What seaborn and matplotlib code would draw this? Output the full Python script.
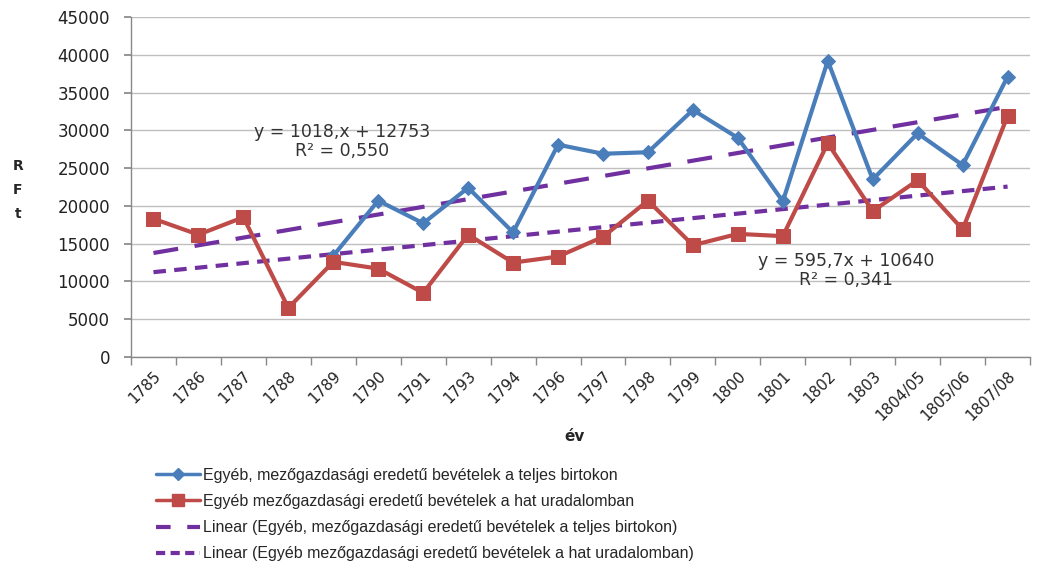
import numpy as np
import pandas as pd
import matplotlib
matplotlib.use("Agg")
import matplotlib.pyplot as plt
import seaborn as sns
from matplotlib.lines import Line2D

# categories and values
years = ["1785", "1786", "1787", "1788", "1789", "1790", "1791", "1793", "1794", "1796",
         "1797", "1798", "1799", "1800", "1801", "1802", "1803", "1804/05", "1805/06", "1807/08"]
teljes = [np.nan, np.nan, np.nan, np.nan, 13400, 20700, 17700, 22400, 16500, 28100,
          26900, 27100, 32700, 29000, 20600, 39200, 23500, 29600, 25400, 37100]
hat = [18300, 16200, 18500, 6500, 12600, 11700, 8500, 16200, 12500, 13300,
       15900, 20700, 14800, 16300, 16000, 28300, 19300, 23400, 16900, 31900]

# trendline coefficients as printed on the chart
trend_teljes = (1018, 12753)
trend_hat = (595.7, 10640)

label_teljes = "Egyéb, mezőgazdasági eredetű bevételek a teljes birtokon"
label_hat = "Egyéb mezőgazdasági eredetű bevételek a hat uradalomban"

BLUE = "#4A7EBB"
RED = "#BE4B48"
PURPLE = "#7030A0"

sns.set_theme(style="white")
plt.rcParams["font.family"] = ["DejaVu Sans"]

idx = np.arange(len(years))
df = pd.DataFrame({"x": idx, "teljes": teljes, "hat": hat})
df["trend_teljes"] = trend_teljes[0] * (idx + 1) + trend_teljes[1]
df["trend_hat"] = trend_hat[0] * (idx + 1) + trend_hat[1]

fig = plt.figure(figsize=(10.43, 5.65), dpi=100)
ax = fig.add_axes([0.1256, 0.368, 0.862, 0.602])

ax.yaxis.grid(True, color="#BFBFBF", linewidth=1)
ax.set_axisbelow(True)

sns.lineplot(data=df, x="x", y="trend_teljes", ax=ax, color=PURPLE, linewidth=3,
             zorder=2).lines[-1].set_dashes((6, 4))
sns.lineplot(data=df, x="x", y="trend_hat", ax=ax, color=PURPLE, linewidth=3,
             zorder=2).lines[-1].set_dashes((3, 2))
sns.lineplot(data=df.dropna(subset=["teljes"]), x="x", y="teljes", ax=ax, color=BLUE,
             linewidth=3, marker="D", markersize=7, markeredgecolor=BLUE, zorder=3)
sns.lineplot(data=df, x="x", y="hat", ax=ax, color=RED, linewidth=3,
             marker="s", markersize=10, markeredgecolor=RED, zorder=3)

ax.set_xlim(-0.5, len(years) - 0.5)
ax.set_ylim(0, 45000)
ax.set_yticks(np.arange(0, 45001, 5000))
ax.set_yticklabels([str(v) for v in range(0, 45001, 5000)], fontsize=12, color="#222222")
ax.set_xticks(idx)
ax.set_xticklabels(years, rotation=45, ha="right", rotation_mode="anchor", fontsize=11,
                   color="#222222")
ax.set_xticks(np.arange(-0.5, len(years), 1), minor=True)
ax.tick_params(axis="x", which="major", length=0, pad=8)
ax.tick_params(axis="x", which="minor", length=6, color="#888888", direction="out", bottom=True)
ax.tick_params(axis="y", length=5, color="#888888", direction="out", left=True, pad=10)
ax.set_xlabel("")
ax.set_ylabel("")

for side in ["top", "right"]:
    ax.spines[side].set_visible(False)
for side in ["left", "bottom"]:
    ax.spines[side].set_color("#888888")
    ax.spines[side].set_linewidth(1)

ax.text(4.2, 28500, "y = 1018,x + 12753\nR² = 0,550", ha="center", va="center",
        fontsize=12.5, color="#333333", linespacing=1.05)
ax.text(15.4, 11500, "y = 595,7x + 10640\nR² = 0,341", ha="center", va="center",
        fontsize=12.5, color="#333333", linespacing=1.05)

fig.text(0.017, 0.664, "R\nF\nt", ha="center", va="center", fontsize=10,
         fontweight="bold", linespacing=1.9)
fig.text(0.551, 0.227, "év", ha="center", va="center", fontsize=11, fontweight="bold")

handles = [
    Line2D([], [], color=BLUE, linewidth=2.5, marker="D", markersize=6),
    Line2D([], [], color=RED, linewidth=2.5, marker="s", markersize=8),
    Line2D([], [], color=PURPLE, linewidth=3, dashes=(3.5, 4)),
    Line2D([], [], color=PURPLE, linewidth=3, dashes=(2.2, 1.3)),
]
labels = [label_teljes, label_hat, "Linear (" + label_teljes + ")", "Linear (" + label_hat + ")"]
fig.legend(handles, labels, loc="upper left", bbox_to_anchor=(0.15, 0.172), frameon=False,
           prop={"family": ["Liberation Sans"], "size": 11.5}, handlelength=2.7,
           handletextpad=0.2, labelspacing=0.7, borderaxespad=0, borderpad=0)

fig.savefig("out.png", dpi=100)
